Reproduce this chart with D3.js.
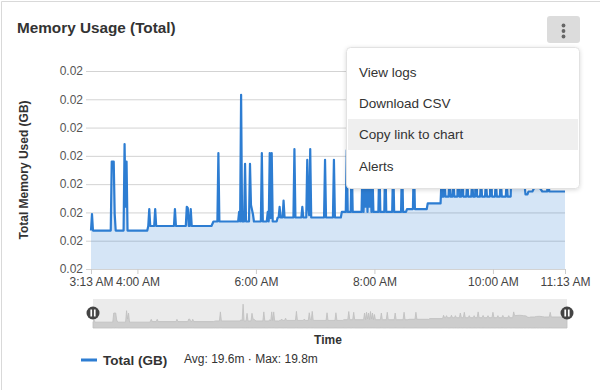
<!DOCTYPE html>
<html lang="en">
<head>
<meta charset="utf-8">
<title>Memory Usage (Total)</title>
<style>
  body { margin: 0; background: #fff; }
  svg { display: block; font-family: "Liberation Sans", Arial, Helvetica, sans-serif; }
  .grid line { stroke: #d3d3d3; }
  .grid .domain { display: none; }
  .grid text { fill: #555; font-size: 12px; }
  .xaxis .domain { display: none; }
  .xaxis line { stroke: #ccc; }
  .xaxis text { fill: #444; font-size: 12px; }
</style>
</head>
<body>
<div id="chart"></div>
<script src="https://cdn.jsdelivr.net/npm/d3@7"></script>
<script>
// minutes after 3:13 AM and memory used (in m = 1/1000 GB)
var sampleMinutes = [
  0, 1, 2, 20, 21, 23, 24, 25, 33, 34, 35, 36, 37, 57, 58, 59, 60, 64, 65, 66,
  84, 85, 86, 96, 97, 98, 99, 100, 101, 102, 122, 124, 128, 129, 130, 149, 150, 151, 152, 153,
  155, 156, 157, 160, 161, 162, 164, 165, 172, 173, 174, 178, 179, 180, 181, 182, 183, 184, 188, 189,
  190, 191, 192, 194, 195, 196, 205, 206, 207, 213, 214, 215, 218, 219, 220, 221, 222, 223, 236, 237,
  238, 245, 246, 247, 253, 254, 258, 259, 260, 263, 264, 265, 274, 275, 276, 277, 278, 279, 280, 281,
  282, 283, 284, 285, 286, 291, 292, 293, 297, 298, 299, 305, 306, 307, 314, 315, 316, 319, 320, 326,
  327, 328, 340, 341, 354, 355, 356, 357, 358, 359, 362, 363, 364, 366, 367, 368, 371, 372, 373, 375,
  376, 377, 380, 381, 382, 385, 386, 387, 389, 390, 391, 394, 395, 396, 399, 400, 401, 404, 405, 406,
  409, 410, 411, 414, 415, 416, 420, 421, 422, 425, 426, 427, 432, 436, 439, 440, 442, 443, 447, 449,
  452, 455, 457, 462, 463, 464, 480
];
var usedMilli = [
  19.518, 19.547, 19.518, 19.518, 19.640, 19.640, 19.547, 19.518, 19.518, 19.671, 19.560, 19.640, 19.518, 19.518, 19.526, 19.556, 19.526, 19.526, 19.556, 19.526,
  19.526, 19.556, 19.526, 19.526, 19.560, 19.558, 19.526, 19.526, 19.556, 19.526, 19.526, 19.534, 19.534, 19.655, 19.534, 19.534, 19.551, 19.534, 19.758, 19.534,
  19.534, 19.636, 19.534, 19.534, 19.636, 19.563, 19.547, 19.534, 19.534, 19.655, 19.534, 19.534, 19.551, 19.534, 19.655, 19.540, 19.655, 19.534, 19.534, 19.541,
  19.541, 19.560, 19.541, 19.541, 19.571, 19.541, 19.541, 19.662, 19.541, 19.541, 19.560, 19.541, 19.541, 19.643, 19.560, 19.545, 19.662, 19.541, 19.541, 19.643,
  19.541, 19.541, 19.643, 19.541, 19.541, 19.551, 19.551, 19.660, 19.551, 19.551, 19.650, 19.551, 19.551, 19.640, 19.551, 19.650, 19.560, 19.640, 19.551, 19.660,
  19.560, 19.640, 19.551, 19.620, 19.551, 19.551, 19.640, 19.551, 19.551, 19.650, 19.551, 19.551, 19.640, 19.551, 19.551, 19.650, 19.551, 19.551, 19.556, 19.556,
  19.650, 19.556, 19.556, 19.566, 19.566, 19.610, 19.578, 19.578, 19.605, 19.578, 19.578, 19.610, 19.578, 19.578, 19.605, 19.578, 19.578, 19.640, 19.578, 19.578,
  19.650, 19.578, 19.578, 19.605, 19.578, 19.578, 19.605, 19.578, 19.578, 19.655, 19.578, 19.578, 19.608, 19.578, 19.578, 19.605, 19.578, 19.578, 19.650, 19.578,
  19.578, 19.605, 19.578, 19.578, 19.608, 19.578, 19.578, 19.605, 19.578, 19.578, 19.655, 19.605, 19.610, 19.605, 19.600, 19.582, 19.582, 19.587, 19.587, 19.594,
  19.596, 19.592, 19.587, 19.587, 19.650, 19.587, 19.587
];

var yTickValues = [0.01945, 0.01950, 0.01955, 0.01960, 0.01965, 0.01970, 0.01975, 0.01980];
var xTickLabels = ["3:13 AM", "4:00 AM", "6:00 AM", "8:00 AM", "10:00 AM", "11:13 AM"];
var menuItems = ["View logs", "Download CSV", "Copy link to chart", "Alerts"];

var width = 600, height = 390;
var plot = { left: 91, right: 565, top: 71, bottom: 269 };
var nav = { left: 93, right: 567, top: 299, bottom: 328 };
var lineColor = "#2d7dd2";

var parseTime = d3.timeParse("%I:%M %p");
var start = parseTime(xTickLabels[0]);
var end = parseTime(xTickLabels[xTickLabels.length - 1]);

var data = sampleMinutes.map(function(m, i) {
  return { t: new Date(start.getTime() + m * 60000), v: usedMilli[i] / 1000 };
});

var svg = d3.select("#chart").append("svg")
    .attr("width", width)
    .attr("height", height);

var defs = svg.append("defs");
var shadow = defs.append("filter").attr("id", "shadow")
    .attr("x", "-10%").attr("y", "-10%").attr("width", "120%").attr("height", "130%");
shadow.append("feDropShadow")
    .attr("dx", 0).attr("dy", 1).attr("stdDeviation", 2)
    .attr("flood-color", "#000").attr("flood-opacity", 0.15);

// card border
svg.append("path")
    .attr("d", "M1.5," + height + "V1.5H" + width)
    .attr("fill", "none")
    .attr("stroke", "#d9d9d9");

svg.append("text")
    .attr("x", 17).attr("y", 33)
    .attr("font-size", "15.3px").attr("font-weight", "bold").attr("fill", "#333")
    .text("Memory Usage (Total)");

var x = d3.scaleTime().domain([start, end]).range([plot.left, plot.right]);
var y = d3.scaleLinear().domain([yTickValues[0], yTickValues[yTickValues.length - 1]])
    .range([plot.bottom, plot.top]);

// grid + y labels
var gy = svg.append("g")
    .attr("class", "grid")
    .attr("transform", "translate(" + plot.left + ",0)")
    .call(d3.axisLeft(y)
      .tickValues(yTickValues)
      .tickSize(-(plot.right - plot.left))
      .tickPadding(8)
      .tickFormat(d3.format(".2f")));
gy.selectAll(".tick line").attr("x1", -5);

var area = d3.area()
    .x(function(d) { return x(d.t); })
    .y0(plot.bottom)
    .y1(function(d) { return y(d.v); });

var line = d3.line()
    .x(function(d) { return x(d.t); })
    .y(function(d) { return y(d.v); });

svg.append("path")
    .datum(data)
    .attr("d", area)
    .attr("fill", lineColor)
    .attr("fill-opacity", 0.2);

svg.append("path")
    .datum(data)
    .attr("d", line)
    .attr("fill", "none")
    .attr("stroke", lineColor)
    .attr("stroke-width", 2.2)
    .attr("stroke-linejoin", "round");

svg.append("g")
    .attr("class", "xaxis")
    .attr("transform", "translate(0," + plot.bottom + ")")
    .call(d3.axisBottom(x)
      .tickValues(xTickLabels.map(parseTime))
      .tickSize(5)
      .tickPadding(3)
      .tickFormat(d3.timeFormat("%-I:%M %p")));

svg.append("text")
    .attr("transform", "translate(27.5," + ((plot.top + plot.bottom) / 2) + ") rotate(-90)")
    .attr("text-anchor", "middle")
    .attr("font-size", "12px").attr("font-weight", "bold").attr("fill", "#333")
    .text("Total Memory Used (GB)");

// navigator
var xn = d3.scaleTime().domain([start, end]).range([nav.left, nav.right]);
var yn = d3.scaleLinear().domain([0.01944, 0.01980]).range([nav.bottom, nav.top + 2]);

svg.append("rect")
    .attr("x", nav.left).attr("y", nav.top)
    .attr("width", nav.right - nav.left).attr("height", nav.bottom - nav.top)
    .attr("fill", "#ebebeb");

svg.append("path")
    .datum(data)
    .attr("d", d3.area()
      .x(function(d) { return xn(d.t); })
      .y0(nav.bottom)
      .y1(function(d) { return yn(d.v); }))
    .attr("fill", "#cdcdcd")
    .attr("stroke", "#bfbfbf")
    .attr("stroke-width", 0.8);

var handles = svg.selectAll(".handle")
    .data([nav.left, nav.right])
  .enter().append("g")
    .attr("class", "handle")
    .attr("transform", function(d) { return "translate(" + d + "," + ((nav.top + nav.bottom) / 2 - 0.5) + ")"; });
handles.append("circle").attr("r", 6.5).attr("fill", "#444");
handles.selectAll("rect")
    .data([-2.6, 0.9])
  .enter().append("rect")
    .attr("x", function(d) { return d; }).attr("y", -3.5)
    .attr("width", 1.7).attr("height", 7)
    .attr("fill", "#fff");

svg.append("text")
    .attr("x", (plot.left + plot.right) / 2).attr("y", 344)
    .attr("text-anchor", "middle")
    .attr("font-size", "12px").attr("font-weight", "bold").attr("fill", "#333")
    .text("Time");

// legend
svg.append("line")
    .attr("x1", 81).attr("x2", 97).attr("y1", 360).attr("y2", 360)
    .attr("stroke", lineColor).attr("stroke-width", 3);
svg.append("text")
    .attr("x", 103).attr("y", 364.5)
    .attr("font-size", "13.5px").attr("font-weight", "bold").attr("fill", "#333")
    .text("Total (GB)");
svg.append("text")
    .attr("x", 184).attr("y", 363)
    .attr("font-size", "12px").attr("fill", "#333")
    .text("Avg: 19.6m \u00b7 Max: 19.8m");

// menu button
svg.append("rect")
    .attr("x", 547).attr("y", 16).attr("width", 33).attr("height", 27).attr("rx", 3)
    .attr("fill", "#dcdcdc");
svg.selectAll(".dot")
    .data([25.5, 31, 36.5])
  .enter().append("circle")
    .attr("class", "dot")
    .attr("cx", 563.5).attr("cy", function(d) { return d; }).attr("r", 1.9)
    .attr("fill", "#666");

// dropdown menu
var menu = svg.append("g");
menu.append("rect")
    .attr("x", 346.5).attr("y", 47.5).attr("width", 233).attr("height", 141).attr("rx", 4)
    .attr("fill", "#fff").attr("stroke", "#e2e2e2")
    .attr("filter", "url(#shadow)");
menu.append("rect")
    .attr("x", 348).attr("y", 119).attr("width", 230).attr("height", 31)
    .attr("fill", "#efefef");
menu.selectAll("text")
    .data(menuItems)
  .enter().append("text")
    .attr("x", 359)
    .attr("y", function(d, i) { return 77 + i * 31.2; })
    .attr("font-size", "13.5px").attr("fill", "#333")
    .text(function(d) { return d; });
</script>
</body>
</html>
